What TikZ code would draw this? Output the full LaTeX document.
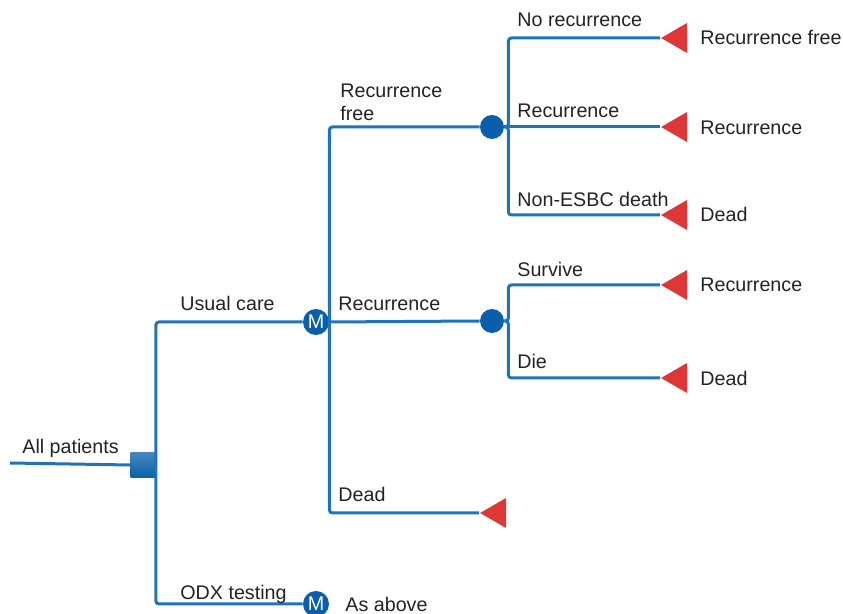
\documentclass[tikz,border=0pt]{standalone}
\usepackage{fontspec}
\setmainfont{Liberation Sans}
\usetikzlibrary{shapes.geometric}
\definecolor{linkblue}{RGB}{30,115,185}
\definecolor{nodeblue}{RGB}{10,95,170}
\definecolor{termred}{RGB}{222,55,55}
\definecolor{txtgray}{RGB}{35,35,35}

\begin{document}
\begin{tikzpicture}[
  x = 0.5pt, y = -0.5pt,
  every node/.style = {font = \fontsize{9.85}{11.5}\selectfont, text = txtgray},
  branch/.style = {draw = linkblue, line width = 1.5pt, rounded corners = 1.5pt},
  decision/.style = {rectangle, top color = nodeblue!75!white, bottom color = nodeblue, minimum size = 12.5pt, inner sep = 0pt},
  chance/.style = {circle, fill = nodeblue, minimum size = 12pt, inner sep = 0pt},
  markov/.style = {circle, fill = nodeblue, minimum size = 13pt, inner sep = 0pt, text = white},
  terminal/.style = {isosceles triangle, shape border rotate = 180, fill = termred,
    isosceles triangle stretches, minimum width = 15pt, minimum height = 13pt,
    inner sep = 0pt, anchor = apex},
  lbl/.style = {anchor = base west, inner sep = 0pt}
  ]
  \useasboundingbox (0,0) rectangle (843,614);

  % decision and markov nodes
  \coordinate (start) at (10,463);
  \node[decision] (sq) at (143,465) {};
  \node[markov] (mu) at (316,322) {M};
  \node[markov] (mx) at (316,604) {M};

  % chance nodes
  \node[chance] (c1) at (492,127) {};
  \node[chance] (c2) at (492,321) {};

  % terminal nodes
  \node[terminal] (t1) at (660,38) {};
  \node[terminal] (t2) at (660,127) {};
  \node[terminal] (t3) at (660,215) {};
  \node[terminal] (t4) at (660,285) {};
  \node[terminal] (t5) at (660,378) {};
  \node[terminal] (t6) at (479,513) {};

  % connectors
  \draw[branch] (start) -- (sq.west);
  \draw[branch] (sq.east) |- (mu.west);
  \draw[branch] (sq.east) |- (mx.west);
  \draw[branch] (mu.east) |- (c1.west);
  \draw[branch] (mu.east) -- (c2.west);
  \draw[branch] (mu.east) |- (t6.apex);
  \draw[branch] (c1.east) -- ++(4,0) |- (t1.apex);
  \draw[branch] (c1.east) -- (t2.apex);
  \draw[branch] (c1.east) -- ++(4,0) |- (t3.apex);
  \draw[branch] (c2.east) -- ++(4,0) |- (t4.apex);
  \draw[branch] (c2.east) -- ++(4,0) |- (t5.apex);

  % branch labels
  \node[lbl] (lAll) at (22,454) {All patients};
  \node[lbl] (lUsual) at (180,311) {Usual care};
  \node[lbl] (lOdx) at (180,600) {ODX testing};
  \node[lbl] (lAbove) at (345,612) {As above};
  \node[lbl, align = left] (lFree) at (340,121) {Recurrence\\free};
  \node[lbl] (lRec) at (338,311) {Recurrence};
  \node[lbl] (lDead) at (338,502) {Dead};
  \node[lbl] (lNoRec) at (517,27) {No recurrence};
  \node[lbl] (lRec2) at (517,118) {Recurrence};
  \node[lbl] (lNonE) at (517,207) {Non-ESBC death};
  \node[lbl] (lSurv) at (517,277) {Survive};
  \node[lbl] (lDie) at (517,369) {Die};

  % outcome labels
  \node[lbl] (oFree) at (700,45) {Recurrence free};
  \node[lbl] (oRec) at (700,135) {Recurrence};
  \node[lbl] (oDead) at (700,222) {Dead};
  \node[lbl] (oRec2) at (700,292) {Recurrence};
  \node[lbl] (oDead2) at (700,386) {Dead};
\end{tikzpicture}
\end{document}
